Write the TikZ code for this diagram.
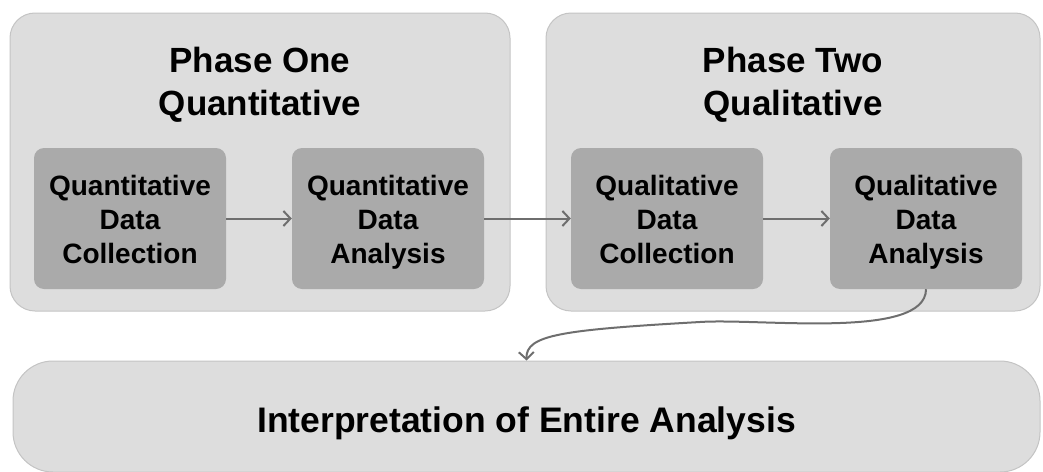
\documentclass[tikz,border=0pt]{standalone}
\usepackage{fontspec}
\setmainfont{Liberation Sans}
\usetikzlibrary{arrows.meta}
\definecolor{phasefill}{HTML}{DDDDDD}
\definecolor{phaseline}{HTML}{C4C4C4}
\definecolor{stepfill}{HTML}{AAAAAA}
\definecolor{flowline}{HTML}{6E6E6E}
\newcommand{\topgap}{\rule{0pt}{33pt}}

\begin{document}
\begin{tikzpicture}[x=1pt,y=-1pt,
  phase/.style={draw=phaseline,line width=1pt,fill=phasefill,rounded corners=25pt,
    minimum height=298pt},
  phasetitle/.style={align=center,font=\bfseries\fontsize{35}{43}\selectfont},
  stepbox/.style={fill=stepfill,rounded corners=10pt,minimum width=192pt,
    minimum height=141pt,align=center,font=\bfseries\fontsize{28}{34}\selectfont},
  flow/.style={draw=flowline,line width=2pt,-{Straight Barb[length=7pt,width=15pt]}}]
\useasboundingbox (0,0) rectangle (1043,471);
\node[phase,minimum width=500pt] (phaseone) at (260,162) {};
\node[phase,minimum width=494pt] (phasetwo) at (793,162) {};
\node[phasetitle] (titleone) at (260,85) {\strut Phase One\\Quantitative\strut};
\node[phasetitle] (titletwo) at (793,85) {\strut Phase Two\\Qualitative\strut};
\node[stepbox] (quancoll) at (130,218.5) {\topgap Quantitative\\Data\\Collection\strut};
\node[stepbox] (quananal) at (388,218.5) {\topgap Quantitative\\Data\\Analysis\strut};
\node[stepbox] (qualcoll) at (667,218.5) {\topgap Qualitative\\Data\\Collection\strut};
\node[stepbox] (qualanal) at (926,218.5) {\topgap Qualitative\\Data\\Analysis\strut};
\node[draw=phaseline,line width=1pt,fill=phasefill,rounded corners=40pt,
  minimum width=1027pt,minimum height=111pt,text height=31pt,text depth=0pt,
  font=\bfseries\fontsize{35.5}{40}\selectfont] (interp) at (526.5,416.5)
  {Interpretation of Entire Analysis};
\draw[flow] (quancoll) -- (quananal);
\draw[flow] (quananal) -- (qualcoll);
\draw[flow] (qualcoll) -- (qualanal);
\draw[flow] (qualanal.south) .. controls (926,340) and (760,318) .. (700,322)
  .. controls (560,330) and (526,335) .. (interp.north);
\end{tikzpicture}
\end{document}
